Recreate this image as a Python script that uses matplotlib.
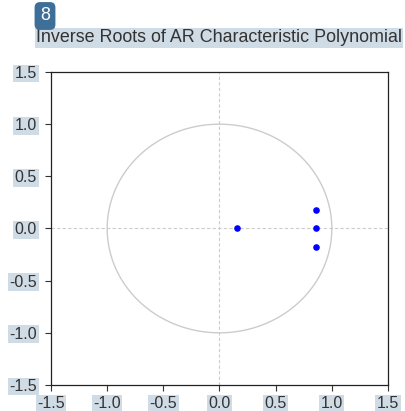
import numpy as np
import matplotlib
matplotlib.use("Agg")
import matplotlib.pyplot as plt

plt.rcParams['font.family'] = ['Liberation Sans', 'DejaVu Sans']

title = "Inverse Roots of AR Characteristic Polynomial"
badge = "8"

root_re = [0.155, 0.86, 0.86, 0.86]
root_im = [0.0, 0.18, 0.0, -0.18]

ticks = [-1.5, -1.0, -0.5, 0.0, 0.5, 1.0, 1.5]
tick_labels = ["-1.5", "-1.0", "-0.5", "0.0", "0.5", "1.0", "1.5"]

hl = "#cfdbe5"

fig = plt.figure(figsize=(4.06, 4.11), dpi=100)
ax = fig.add_axes([51/406, 1 - 385/411, 337/406, 313/411])

# unit circle
t = np.linspace(0, 2*np.pi, 400)
ax.plot(np.cos(t), np.sin(t), color="#cccccc", lw=1.0)
ax.axhline(0, color="#cccccc", lw=0.8, ls=(0, (3, 2)))
ax.axvline(0, color="#cccccc", lw=0.8, ls=(0, (3, 2)))

ax.scatter(root_re, root_im, s=14, color="#0000ff", zorder=3)

ax.set_xlim(-1.5, 1.5)
ax.set_ylim(-1.5, 1.5)
ax.set_xticks(ticks)
ax.set_yticks(ticks)
ax.set_xticklabels(tick_labels)
ax.set_yticklabels(tick_labels)
ax.tick_params(direction="out", length=4, width=0.8, labelsize=11.5, color="#333333")
ax.tick_params(axis="y", pad=6)
ax.tick_params(axis="x", pad=4)
for lab in ax.get_xticklabels() + ax.get_yticklabels():
    lab.set_bbox(dict(facecolor=hl, edgecolor="none", pad=1.0))
    lab.set_color("#333333")
for s in ax.spines.values():
    s.set_linewidth(0.9)
    s.set_color("#222222")

fig.text(36/406, 1 - 38/411, title, fontsize=12.9, color="#333333", va="center", ha="left",
         bbox=dict(facecolor=hl, edgecolor="none", pad=1.0))
fig.text(45/406, 1 - 16/411, badge, fontsize=13, color="white", va="center", ha="center",
         bbox=dict(boxstyle="round,pad=0.3", facecolor="#3d6f99", edgecolor="none"))

fig.savefig("out.png", dpi=100)
